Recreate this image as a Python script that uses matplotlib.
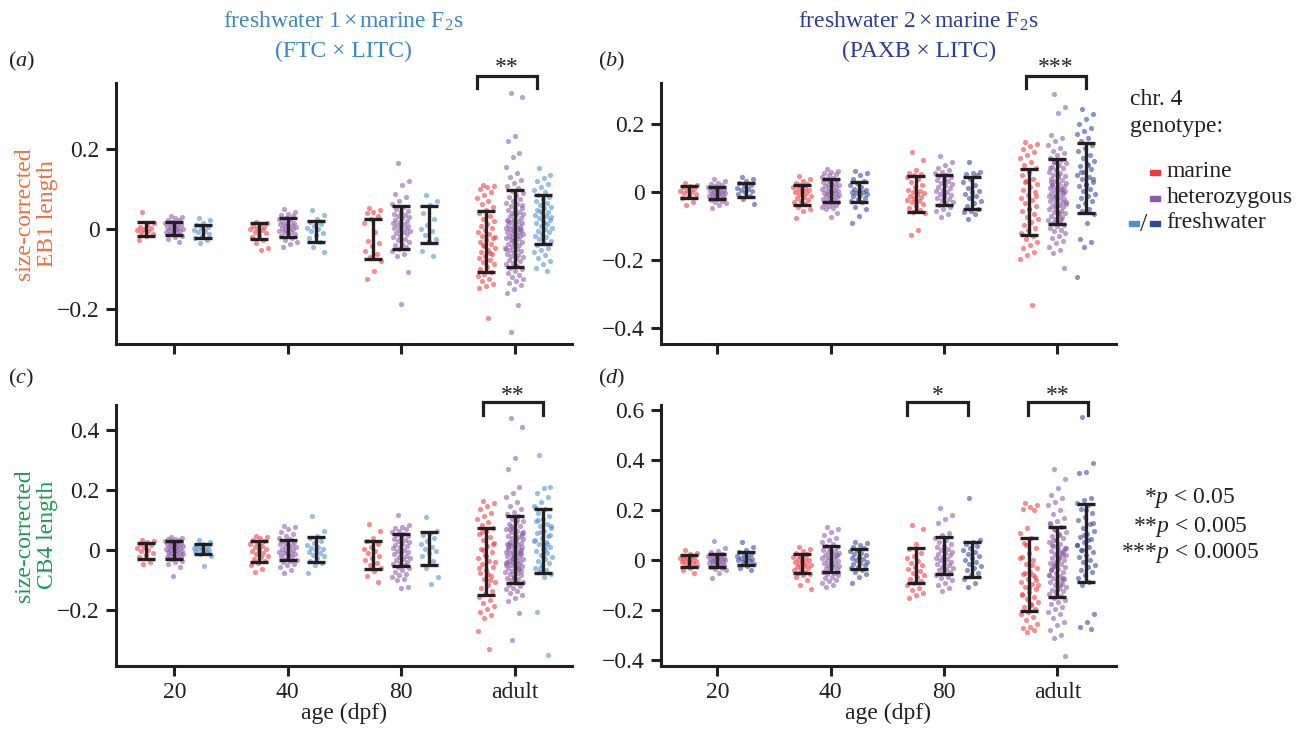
import numpy as np
import matplotlib
matplotlib.use('Agg')
import matplotlib.pyplot as plt
import matplotlib.transforms as transforms
from matplotlib.patches import Rectangle
from matplotlib.ticker import FuncFormatter

plt.rcParams['font.family'] = ['Liberation Serif', 'DejaVu Serif']
plt.rcParams['mathtext.fontset'] = 'custom'
plt.rcParams['mathtext.rm'] = 'Liberation Serif'
plt.rcParams['mathtext.it'] = 'Liberation Serif:italic'

ages = ['20', '40', '80', 'adult']
genotypes = ['marine', 'heterozygous', 'freshwater']

# point values, in thousandths
# panel (a): EB1, FTC x LITC
a_20_mar = [42, 15, 10, 6, 3, 0, -2, -5, -8, -12, -18, -27]
a_20_het = [34, 30, 27, 24, 22, 19, 16, 14, 12, 10, 8, 6, 4, 3, 1, 0, -2, -4, -6, -8, -10, -13, -16, -20, -25, -31]
a_20_fw = [28, 22, 15, 10, 6, 2, -1, -4, -8, -12, -16, -22, -28, -35]
a_40_mar = [19, 16, 12, 8, 5, 3, 0, -3, -6, -10, -14, -20, -26, -35, -46, -53]
a_40_het = [51, 42, 38, 35, 32, 28, 25, 22, 19, 16, 14, 12, 10, 8, 6, 4, 2, 0, -2, -4, -6, -8, -11, -14, -17,
            -21, -26, -32, -38, -45]
a_40_fw = [47, 35, 26, 18, 12, 8, 3, 0, -4, -9, -15, -22, -32, -45, -57]
a_80_mar = [52, 48, 44, 40, 32, 25, 15, -8, -30, -35, -42, -55, -62, -70, -80, -105, -125]
a_80_het = [165, 120, 110, 88, 80, 70, 62, 55, 50, 46, 42, 38, 35, 32, 30, 27, 24, 21, 18, 15, 12, 10, 7, 5, 3,
            1, -1, -4, -7, -10, -13, -16, -20, -24, -28, -32, -36, -40, -45, -50, -55, -62, -68, -107, -188]
a_80_fw = [86, 70, 60, 40, 25, 10, 0, -5, -15, -25, -30, -55, -68]
a_ad_mar = [110, 108, 105, 100, 92, 85, 78, 70, 62, 55, 48, 40, 33, 26, 20, 14, 8, 3, -2, -7, -12, -17, -22, -27,
            -32, -37, -42, -47, -52, -57, -62, -67, -72, -77, -82, -88, -94, -100, -106, -112, -118, -124, -130,
            -136, -142, -147, -60, -40, -20, -222]
a_ad_het = [340, 330, 232, 220, 190, 180, 155, 140, 130, 122, 115, 108, 102, 96, 90, 85, 80, 75, 70, 66, 62, 58,
            54, 50, 47, 44, 41, 38, 35, 32, 29, 26, 24, 21, 18, 16, 13, 11, 8, 6, 4, 2, 0, -2, -4, -6, -8, -10,
            -12, -14, -16, -18, -20, -22, -25, -28, -31, -34, -37, -40, -43, -46, -49, -52, -55, -58, -61, -64,
            -67, -70, -73, -76, -80, -84, -88, -92, -96, -100, -105, -110, -115, -120, -125, -130, -135, -140,
            -150, -160, -190, -258, 60, 40, 20, 0, -30, -50]
a_ad_fw = [153, 135, 128, 120, 112, 105, 98, 92, 86, 80, 75, 70, 65, 60, 56, 52, 48, 44, 40, 36, 32, 28, 24, 20,
           16, 12, 8, 4, 0, -4, -8, -12, -16, -20, -25, -30, -35, -40, -46, -52, -58, -65, -72, -80, -88, -96,
           -104, 45, 30, 15]

# panel (b): EB1, PAXB x LITC
b_20_mar = [28, 22, 18, 14, 10, 7, 4, 1, -2, -6, -10, -16, -30, -38]
b_20_het = [39, 33, 28, 24, 20, 17, 14, 12, 10, 8, 6, 4, 2, 0, -1, -3, -5, -7, -9, -11, -13, -15, -17, -19, -22,
            -25, -29, -33, -38, -46]
b_20_fw = [44, 38, 32, 26, 21, 17, 13, 9, 6, 3, 0, -4, -10, -20, -34]
b_40_mar = [48, 40, 33, 28, 24, 20, 16, 12, 9, 6, 3, 0, -3, -6, -10, -14, -18, -22, -26, -30, -35, -42, -50, -55,
            -77]
b_40_het = [68, 63, 60, 57, 54, 50, 46, 43, 40, 37, 34, 31, 28, 25, 22, 20, 18, 15, 12, 10, 8, 5, 3, 1, -1, -3,
            -5, -8, -10, -12, -15, -18, -20, -23, -26, -29, -32, -35, -38, -41, -44, -47, -50, -60, -74]
b_40_fw = [63, 58, 50, 40, 32, 26, 20, 15, 11, 8, 5, 2, 0, -3, -6, -9, -12, -16, -20, -25, -30, -42, -48, -70, -91]
b_80_mar = [117, 95, 65, 58, 55, 50, 45, 40, 30, 22, 15, 8, 3, 0, -3, -6, -10, -14, -18, -22, -26, -30, -35, -40,
            -45, -52, -58, -62, -110, -125]
b_80_het = [107, 88, 80, 72, 65, 60, 56, 52, 48, 44, 40, 36, 32, 28, 24, 20, 16, 12, 8, 4, 0, -4, -8, -12, -16,
            -20, -24, -28, -33, -38, -44, -50, -55, -65, -74]
b_80_fw = [88, 60, 57, 55, 50, 40, 30, 20, 12, 5, 0, -5, -10, -18, -25, -32, -40, -48, -55, -58, -65, -79]
b_ad_mar = [149, 142, 135, 128, 118, 110, 100, 90, 80, 70, 60, 50, 40, 32, 24, 16, 8, 0, -8, -16, -24, -32, -40,
            -48, -56, -64, -72, -80, -88, -96, -104, -112, -120, -128, -136, -145, -155, -165, -175, -185, -195,
            -332, 30, -10, -50]
b_ad_het = [289, 250, 233, 168, 160, 150, 140, 130, 122, 115, 108, 102, 96, 90, 85, 80, 75, 70, 65, 60, 56, 52,
            48, 44, 40, 36, 32, 28, 25, 22, 19, 16, 13, 10, 7, 4, 1, -2, -5, -8, -11, -14, -17, -20, -23, -26,
            -29, -32, -35, -38, -41, -44, -47, -50, -54, -58, -62, -66, -70, -74, -78, -82, -86, -90, -95, -100,
            -105, -110, -115, -120, -128, -135, -142, -150, -160, -170, -180, -222, 50, 30, 10, -10, -30, -60,
            20, 0, -40, 70, -80, 90]
b_ad_fw = [246, 230, 215, 200, 190, 180, 170, 160, 150, 140, 130, 120, 110, 100, 92, 84, 76, 68, 60, 52, 45, 38,
           31, 24, 17, 10, 3, -4, -11, -18, -25, -32, -40, -48, -56, -64, -90, -136, -145, -160, -248, 80, 60,
           40, 20]

# panel (c): CB4, FTC x LITC
c_20_mar = [33, 30, 26, 22, 17, 12, 7, 2, -3, -9, -16, -24, -38, -47]
c_20_het = [44, 40, 38, 36, 34, 32, 30, 28, 26, 24, 22, 20, 18, 16, 14, 12, 10, 8, 6, 4, 2, 0, -2, -4, -6, -8,
            -10, -12, -14, -16, -18, -20, -23, -26, -30, -35, -40, -45, -55, -86]
c_20_fw = [35, 28, 22, 18, 14, 11, 8, 5, 3, 1, -1, -4, -7, -12, -18, -52]
c_40_mar = [46, 43, 40, 35, 30, 25, 20, 15, 10, 5, 1, -3, -8, -13, -18, -24, -30, -36, -42, -48, -62, -73]
c_40_het = [81, 76, 70, 60, 52, 46, 41, 36, 32, 28, 24, 20, 16, 13, 10, 7, 4, 1, -2, -5, -8, -11, -14, -17, -20,
            -24, -28, -32, -36, -40, -45, -50, -57, -66, -75]
c_40_fw = [113, 65, 48, 40, 32, 25, 18, 12, 7, 3, -1, -5, -10, -15, -20, -27, -35, -42, -48, -75]
c_80_mar = [86, 64, 40, 30, 22, 12, 5, -2, -10, -18, -26, -34, -42, -50, -58, -70, -86, -107]
c_80_het = [117, 82, 78, 74, 70, 65, 60, 55, 50, 46, 42, 38, 34, 30, 26, 22, 18, 14, 10, 6, 2, -2, -6, -10, -14,
            -18, -22, -26, -30, -34, -38, -42, -46, -50, -55, -60, -66, -72, -78, -84, -90, -95, -100, -122, -127]
c_80_fw = [111, 65, 58, 50, 40, 30, 20, 10, 5, -2, -10, -20, -35, -60, -89, -114]
c_ad_mar = [163, 155, 145, 135, 125, 115, 105, 95, 85, 75, 65, 55, 45, 35, 25, 15, 5, -5, -15, -25, -35, -45,
            -55, -65, -75, -85, -95, -105, -115, -125, -135, -145, -155, -165, -175, -185, -195, -205, -215, -225,
            -270, -330, 60, 20, -20, -60, -100, 0, -40, -80]
c_ad_het = [440, 410, 305, 270, 210, 190, 175, 160, 148, 138, 128, 120, 112, 105, 98, 92, 86, 80, 75, 70, 65, 60,
            56, 52, 48, 44, 40, 36, 32, 28, 25, 22, 19, 16, 13, 10, 7, 4, 1, -2, -5, -8, -11, -14, -17, -20, -23,
            -26, -29, -32, -35, -38, -41, -44, -47, -50, -53, -56, -60, -64, -68, -72, -76, -80, -84, -88, -92,
            -96, -100, -105, -110, -115, -120, -125, -130, -136, -142, -150, -160, -170, -210, -300, 60, 40, 20,
            0, -20, -40, -60, 80, 50, 30, 10, -10, -30, -50, 100, 70, -70, -90]
c_ad_fw = [315, 210, 205, 190, 175, 160, 148, 136, 125, 115, 105, 96, 88, 80, 72, 64, 56, 48, 40, 33, 26, 19, 12,
           5, -2, -9, -16, -23, -30, -37, -44, -51, -58, -65, -72, -80, -88, -205, -350, 60, 30, 0, 100, 50, -20,
           140, 20, -60, 80, 10]

# panel (d): CB4, PAXB x LITC
d_20_mar = [41, 30, 24, 19, 15, 11, 8, 5, 2, -1, -4, -8, -12, -16, -22, -30, -40, -52]
d_20_het = [77, 50, 38, 32, 27, 23, 19, 16, 13, 10, 8, 6, 4, 2, 0, -2, -4, -6, -8, -10, -13, -16, -19, -22, -26,
            -30, -35, -40, -50, -72]
d_20_fw = [75, 52, 40, 33, 27, 22, 18, 14, 10, 6, 3, 0, -4, -8, -14, -22, -30, -39]
d_40_mar = [55, 45, 38, 30, 24, 18, 13, 8, 4, 0, -4, -8, -12, -16, -20, -24, -28, -32, -36, -40, -45, -50, -55,
            -60, -68, -80, -100, -115]
d_40_het = [135, 125, 112, 100, 90, 80, 72, 65, 58, 52, 47, 42, 37, 33, 29, 25, 21, 17, 13, 9, 5, 1, -3, -7, -11,
            -15, -19, -23, -27, -31, -35, -40, -45, -50, -55, -60, -66, -72, -78, -84, -90, -97, -105, 20, -20]
d_40_fw = [75, 68, 60, 54, 48, 42, 36, 30, 25, 20, 15, 10, 5, 0, -5, -10, -15, -20, -26, -32, -38, -45, -55, -68,
           -89]
d_80_mar = [140, 125, 65, 45, 30, 18, 8, -2, -12, -20, -28, -36, -44, -52, -60, -68, -76, -84, -92, -100, -110,
            -120, -130, -140, -152]
d_80_het = [210, 180, 165, 150, 110, 100, 90, 80, 72, 65, 58, 52, 46, 40, 35, 30, 25, 20, 15, 10, 5, 0, -5, -10,
            -15, -20, -25, -30, -35, -40, -46, -52, -58, -65, -72, -80, -90, -100, -110, -121]
d_80_fw = [250, 80, 72, 64, 56, 48, 40, 32, 24, 16, 8, 0, -8, -16, -24, -32, -40, -50, -60, -75, -90, -108]
d_ad_mar = [230, 222, 215, 205, 200, 130, 110, 90, 70, 50, 30, 15, 0, -15, -30, -45, -55, -65, -75, -85, -95,
            -105, -115, -125, -135, -145, -155, -165, -175, -185, -195, -205, -215, -225, -240, -255, -265, -270,
            -280, -287, 10, -20, -50, -80, -110, -140, -60, 60, -100, -180]
d_ad_het = [367, 325, 290, 260, 250, 235, 220, 200, 185, 170, 158, 146, 135, 125, 115, 106, 97, 88, 80, 72, 65,
            58, 51, 44, 38, 32, 26, 20, 14, 8, 2, -4, -10, -16, -22, -28, -34, -40, -46, -52, -58, -64, -70, -76,
            -82, -88, -94, -100, -106, -112, -118, -124, -130, -136, -142, -150, -158, -166, -175, -185, -195,
            -205, -215, -230, -245, -260, -280, -300, -310, -383, 100, 60, 20, -20, -60, -100, 80, 40, 0, -40,
            -80, 120, 50, 10, -30, -70, -120, 150, 30, -10]
d_ad_fw = [575, 390, 355, 350, 250, 240, 230, 220, 205, 190, 175, 160, 145, 130, 118, 106, 95, 84, 73, 62, 52, 42,
           32, 22, 12, 2, -8, -18, -28, -38, -48, -58, -70, -85, -100, -215, -245, -265, -275, 100, 60, 80, 40,
           150, 200]

# error bar ends (rows: ages, cols: marine / het / freshwater)
a_hi = [[0.0175, 0.0175, 0.011], [0.015, 0.0275, 0.021], [0.025, 0.058, 0.058], [0.046, 0.098, 0.086]]
a_lo = [[-0.017, -0.014, -0.0225], [-0.024, -0.019, -0.032], [-0.074, -0.049, -0.034], [-0.108, -0.095, -0.0375]]
b_hi = [[0.0186, 0.0147, 0.0265], [0.0216, 0.039, 0.030], [0.048, 0.051, 0.046], [0.068, 0.097, 0.144]]
b_lo = [[-0.0157, -0.0206, -0.0127], [-0.037, -0.030, -0.030], [-0.057, -0.038, -0.050], [-0.127, -0.093, -0.061]]
c_hi = [[0.024, 0.029, 0.020], [0.029, 0.035, 0.044], [0.031, 0.053, 0.060], [0.072, 0.113, 0.138]]
c_lo = [[-0.031, -0.028, -0.013], [-0.039, -0.032, -0.039], [-0.062, -0.053, -0.050], [-0.150, -0.108, -0.077]]
d_hi = [[0.023, 0.025, 0.033], [0.024, 0.059, 0.045], [0.048, 0.095, 0.073], [0.089, 0.134, 0.227]]
d_lo = [[-0.025, -0.025, -0.020], [-0.052, -0.048, -0.036], [-0.092, -0.056, -0.068], [-0.203, -0.146, -0.085]]

dark = '#231f20'
c_mar = '#ee3a3f'
c_het = '#8b5aa8'
c_fw1 = '#4f8fd0'
c_fw2 = '#34479a'

W, H = 1306, 731
fig = plt.figure(figsize=(W / 100, H / 100), dpi=100)


def fx(px):
    return px / W


def fy(py):
    return 1 - py / H


def tick_fmt(v, pos):
    return ('%g' % round(v, 2)).replace('-', '\u2212')


offsets = [-0.25, 0.0, 0.25]


def jitter(n, w=0.08):
    k = np.arange(n)
    return ((k * 0.618034 + 0.3) % 1 - 0.5) * 2 * w


def draw_panel(ax, groups, lo, hi, fw_col, xlim, ylim, yticks, bottom):
    cols = [c_mar, c_het, fw_col]
    for i in range(4):
        for j in range(3):
            vals = np.array(groups[i][j]) / 1000.0
            xs = i + offsets[j] + jitter(len(vals))
            ax.scatter(xs, vals, s=14, color=cols[j], alpha=0.58, linewidths=0, zorder=2)
            mid = (lo[i][j] + hi[i][j]) / 2
            half = (hi[i][j] - lo[i][j]) / 2
            ax.errorbar(i + offsets[j], mid, yerr=half, fmt='none', ecolor=dark, elinewidth=2.4,
                        capsize=6.5, capthick=2.4, zorder=4)
    ax.set_xlim(*xlim)
    ax.set_ylim(*ylim)
    ax.set_yticks(yticks)
    ax.yaxis.set_major_formatter(FuncFormatter(tick_fmt))
    ax.set_xticks(range(4))
    if bottom:
        ax.set_xticklabels(ages)
        ax.set_xlabel('age (dpf)', fontsize=17, color=dark, labelpad=0)
    else:
        ax.set_xticklabels([])
    for s in ['top', 'right']:
        ax.spines[s].set_visible(False)
    for s in ['left', 'bottom']:
        ax.spines[s].set_linewidth(2.2)
        ax.spines[s].set_color(dark)
    ax.tick_params(length=7.5, width=2.2, color=dark, labelsize=17, labelcolor=dark, pad=4)


def bracket(ax, x0, x1, ytop, yleg, ystar, stars):
    tr = transforms.blended_transform_factory(ax.transData, ax.transAxes)
    ax.plot([x0, x0, x1, x1], [yleg, ytop, ytop, yleg], transform=tr, clip_on=False,
            color=dark, lw=2.3, solid_joinstyle='miter')
    ax.text((x0 + x1) / 2, ystar, stars, transform=tr, ha='center', va='baseline',
            fontsize=17, color=dark)


ax_a = fig.add_axes([0.0886, 0.5294, 0.3494, 0.3575])
ax_b = fig.add_axes([0.5059, 0.5294, 0.3483, 0.3575])
ax_c = fig.add_axes([0.0886, 0.0893, 0.3494, 0.3566])
ax_d = fig.add_axes([0.5059, 0.0893, 0.3483, 0.3566])

groups_a = [[a_20_mar, a_20_het, a_20_fw], [a_40_mar, a_40_het, a_40_fw],
            [a_80_mar, a_80_het, a_80_fw], [a_ad_mar, a_ad_het, a_ad_fw]]
groups_b = [[b_20_mar, b_20_het, b_20_fw], [b_40_mar, b_40_het, b_40_fw],
            [b_80_mar, b_80_het, b_80_fw], [b_ad_mar, b_ad_het, b_ad_fw]]
groups_c = [[c_20_mar, c_20_het, c_20_fw], [c_40_mar, c_40_het, c_40_fw],
            [c_80_mar, c_80_het, c_80_fw], [c_ad_mar, c_ad_het, c_ad_fw]]
groups_d = [[d_20_mar, d_20_het, d_20_fw], [d_40_mar, d_40_het, d_40_fw],
            [d_80_mar, d_80_het, d_80_fw], [d_ad_mar, d_ad_het, d_ad_fw]]

draw_panel(ax_a, groups_a, a_lo, a_hi, c_fw1, (-0.517, 3.507), (-0.287, 0.366), [-0.2, 0, 0.2], False)
draw_panel(ax_b, groups_b, b_lo, b_hi, c_fw2, (-0.499, 3.513), (-0.446, 0.322), [-0.4, -0.2, 0, 0.2], False)
draw_panel(ax_c, groups_c, c_lo, c_hi, c_fw1, (-0.517, 3.507), (-0.384, 0.482), [-0.2, 0, 0.2, 0.4], True)
draw_panel(ax_d, groups_d, d_lo, d_hi, c_fw2, (-0.499, 3.513), (-0.4216, 0.621),
           [-0.4, -0.2, 0, 0.2, 0.4, 0.6], True)

# significance brackets
bracket(ax_a, 2.67, 3.20, 1.026, 0.980, 1.037, '**')
bracket(ax_b, 2.72, 3.25, 1.026, 0.980, 1.037, '***')
bracket(ax_c, 2.72, 3.25, 1.010, 0.962, 1.017, '**')
bracket(ax_d, 1.676, 2.214, 1.010, 0.962, 1.017, '*')
bracket(ax_d, 2.738, 3.272, 1.010, 0.962, 1.017, '**')

# column titles
fig.text(fx(343.6), fy(27.3), r'freshwater 1$\,$×$\,$marine F$_2$s', ha='center', va='baseline',
         fontsize=17, color='#3b86c6')
fig.text(fx(343.6), fy(56.7), '(FTC × LITC)', ha='center', va='baseline', fontsize=17, color='#3b86c6')
fig.text(fx(918.6), fy(27.3), r'freshwater 2$\,$×$\,$marine F$_2$s', ha='center', va='baseline',
         fontsize=17, color='#2b3d96')
fig.text(fx(918.6), fy(56.7), '(PAXB × LITC)', ha='center', va='baseline', fontsize=17, color='#2b3d96')

# row labels
fig.text(fx(36), fy(213.3), 'size-corrected\nEB1 length', rotation=90, ha='center', va='center',
         multialignment='center', linespacing=1.12, fontsize=17, color='#f26c3c')
fig.text(fx(36), fy(535.3), 'size-corrected\nCB4 length', rotation=90, ha='center', va='center',
         multialignment='center', linespacing=1.12, fontsize=17, color='#1a9850')

# panel letters
for lab, px, py in [('a', 8, 66), ('b', 598, 66), ('c', 8, 383), ('d', 598, 383)]:
    fig.text(fx(px), fy(py), '($' + lab + '$)', ha='left', va='baseline', fontsize=16, color=dark)

# genotype legend
fig.text(fx(1130), fy(105), 'chr. 4', ha='left', va='baseline', fontsize=17, color=dark)
fig.text(fx(1130), fy(132), 'genotype:', ha='left', va='baseline', fontsize=17, color=dark)
legend_rows = [('marine', c_mar, 177.3), ('heterozygous', c_het, 203.3), ('freshwater', c_fw2, 228.3)]
for name, col, base in legend_rows:
    fig.text(fx(1166.7), fy(base), name, ha='left', va='baseline', fontsize=17, color=dark)
    fig.patches.append(Rectangle((fx(1149.5), fy(base - 2.5)), fx(10), 5 / H, color=col,
                                 transform=fig.transFigure, figure=fig))
fig.patches.append(Rectangle((fx(1129.3), fy(228.3 - 2.5)), fx(10), 5 / H, color=c_fw1,
                             transform=fig.transFigure, figure=fig))
fig.text(fx(1143.7), fy(231), '/', ha='center', va='baseline', fontsize=19, color=dark)

# p-value key
for txt, base in [('*$p$ < 0.05', 503.3), ('**$p$ < 0.005', 531.7), ('***$p$ < 0.0005', 558)]:
    fig.text(fx(1190), fy(base), txt, ha='center', va='baseline', fontsize=17, color=dark)

fig.savefig('out.png', dpi=100)
